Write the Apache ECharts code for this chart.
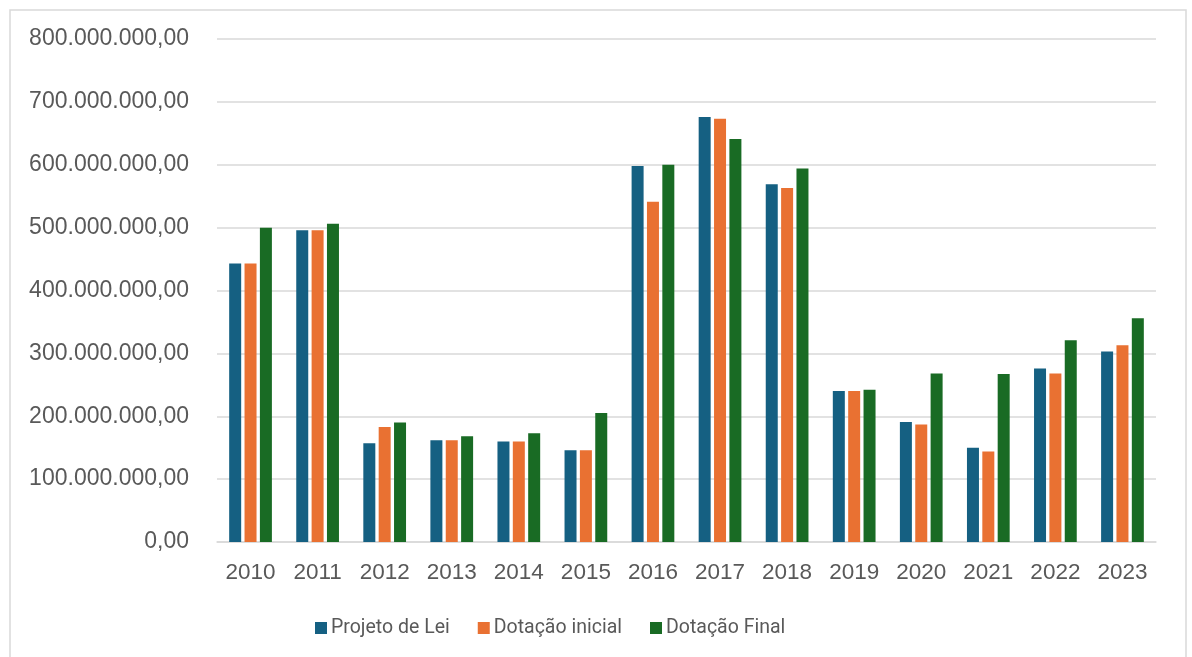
<!DOCTYPE html>
<html>
<head>
<meta charset="utf-8">
<script src="https://cdn.jsdelivr.net/npm/echarts@6/dist/echarts.min.js"></script>
<style>
  html, body { margin: 0; padding: 0; background: #ffffff; }
  #chart { width: 1192px; height: 657px; }
</style>
</head>
<body>
<div id="chart"></div>
<script>
// Anos
const years = ['2010','2011','2012','2013','2014','2015','2016','2017','2018','2019','2020','2021','2022','2023'];

// Valores em reais
const projetoDeLei = [443e6, 496e6, 157e6, 162e6, 160e6, 146e6, 598e6, 676e6, 569e6, 240e6, 191e6, 150e6, 276e6, 303e6];
const dotacaoInicial = [443e6, 496e6, 183e6, 162e6, 160e6, 146e6, 541e6, 673e6, 563e6, 240e6, 187e6, 144e6, 268e6, 313e6];
const dotacaoFinal = [500e6, 506e6, 190e6, 168e6, 173e6, 205e6, 600e6, 641e6, 594e6, 242e6, 268e6, 267e6, 321e6, 356e6];

const seriesNames = ['Projeto de Lei', 'Dotação inicial', 'Dotação Final'];
const seriesColors = ['#156082', '#E97132', '#196B24'];

// Formato brasileiro: 800.000.000,00
function fmtBR(v) {
  const parts = Math.round(v).toString().replace(/\B(?=(\d{3})+(?!\d))/g, '.');
  return parts + ',00';
}

const textColor = '#595959';
const gridColor = '#d9d9d9';
const axisFont = 'Liberation Sans, Arial, sans-serif';

const chart = echarts.init(document.getElementById('chart'));

const dataSets = [projetoDeLei, dotacaoInicial, dotacaoFinal];

chart.setOption({
  animation: false,
  backgroundColor: '#ffffff',
  graphic: [{
    type: 'rect',
    shape: { x: 10, y: 10, width: 1176, height: 670 },
    style: { fill: 'none', stroke: gridColor, lineWidth: 1.5 },
    silent: true
  }],
  grid: { left: 217, right: 36, top: 39, bottom: 115 },
  legend: {
    data: seriesNames,
    left: 310,
    top: 613,
    itemWidth: 12,
    itemHeight: 12,
    itemGap: 28,
    icon: 'rect',
    textStyle: { color: textColor, fontSize: 19.5, fontFamily: 'Roboto, sans-serif', padding: [0, 0, 0, -1] }
  },
  xAxis: {
    type: 'category',
    data: years,
    axisLine: { lineStyle: { color: gridColor, width: 1.5 } },
    axisTick: { show: false },
    axisLabel: { color: textColor, fontSize: 22.5, fontFamily: axisFont, margin: 19 }
  },
  yAxis: {
    type: 'value',
    min: 0,
    max: 800e6,
    interval: 100e6,
    axisLine: { show: false },
    axisTick: { show: false },
    splitLine: { lineStyle: { color: gridColor, width: 1.5 } },
    axisLabel: { color: textColor, fontSize: 23, fontFamily: axisFont, margin: 28, formatter: fmtBR }
  },
  series: seriesNames.map((name, i) => ({
    name: name,
    type: 'bar',
    data: dataSets[i],
    barWidth: 12,
    barGap: '28%',
    itemStyle: { color: seriesColors[i] }
  }))
});
</script>
</body>
</html>
